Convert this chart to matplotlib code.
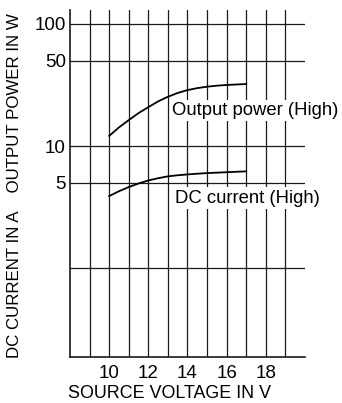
import numpy as np
import matplotlib
matplotlib.use("Agg")
import matplotlib.pyplot as plt
from matplotlib.ticker import NullLocator

plt.rcParams['font.family'] = ['Liberation Sans', 'DejaVu Sans']

# source voltage sweep and measured values (High setting)
volts = [10, 10.5, 11, 11.5, 12, 12.5, 13, 13.5, 14, 14.5, 15, 15.5, 16, 16.5, 17]
power_w = [12.1, 14.2, 16.3, 18.6, 20.8, 23.2, 25.3, 27.2, 28.7, 29.8, 30.6, 31.2, 31.6, 31.9, 32.2]
current_a = [3.89, 4.26, 4.61, 4.93, 5.22, 5.45, 5.64, 5.76, 5.85, 5.93, 6.0, 6.05, 6.1, 6.15, 6.2]

y_ticks = [1, 5, 10, 50, 100]
y_tick_labels = ['', '5', '10', '50', '100']
x_ticks = list(range(9, 20))
x_tick_labels = [str(v) if v % 2 == 0 else '' for v in x_ticks]

W, H = 342, 403
fig = plt.figure(figsize=(W / 100, H / 100), dpi=100)
ax = fig.add_axes([70 / W, 46 / H, 235 / W, 347 / H])

ax.set_yscale('log')
ax.set_xlim(8, 20)
ax.set_ylim(0.187, 130)

ax.set_yticks(y_ticks)
ax.set_yticklabels(y_tick_labels)
ax.yaxis.set_minor_locator(NullLocator())
ax.set_xticks(x_ticks)
ax.set_xticklabels(x_tick_labels)
ax.tick_params(length=0, labelsize=13.5, pad=3)
ax.tick_params(axis='x', pad=6)

ax.grid(True, color='#1a1a1a', lw=0.9)
ax.set_axisbelow(True)
for s in ['top', 'right']:
    ax.spines[s].set_visible(False)
for s in ['left', 'bottom']:
    ax.spines[s].set_color('#1a1a1a')
    ax.spines[s].set_linewidth(1.2)

ax.plot(volts, power_w, color='black', lw=1.3, zorder=3)
ax.plot(volts, current_a, color='black', lw=1.3, zorder=3)

box = dict(facecolor='white', edgecolor='none', pad=1.5)
ax.text(13.2, 19.7, 'Output power (High)', fontsize=13.3, va='center', ha='left',
        bbox=box, clip_on=False, zorder=4)
ax.text(13.35, 3.75, 'DC current (High)', fontsize=13.3, va='center', ha='left',
        bbox=box, clip_on=False, zorder=4)

fig.text(170 / W, 1 - 393 / H, 'SOURCE VOLTAGE IN V', fontsize=12.9, ha='center', va='center')
fig.text(15 / W, 1 - 186 / H, 'DC CURRENT IN A    OUTPUT POWER IN W', fontsize=12.2,
         rotation=90, ha='center', va='center')

fig.savefig('out.png', dpi=100)
